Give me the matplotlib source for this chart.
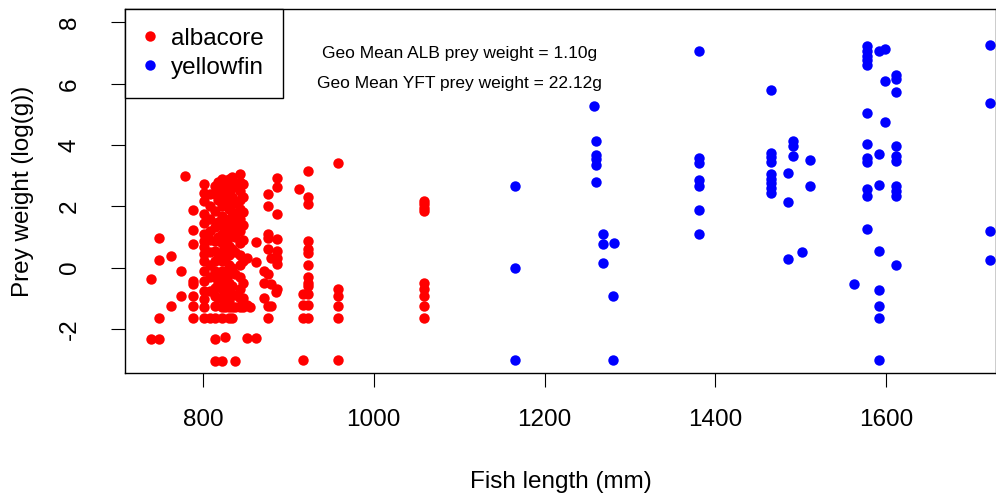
import numpy as np
import matplotlib
matplotlib.use("Agg")
import matplotlib.pyplot as plt

plt.rcParams['font.family'] = ['Liberation Sans', 'DejaVu Sans']
plt.rcParams['axes.unicode_minus'] = False

# albacore: fish length (mm) columns and prey weight (log g) at each length
alb_lengths = [739, 748, 762, 774, 779, 788, 801, 808, 814, 818, 822, 826, 830,
               834, 837, 843, 847, 851, 855, 862, 871, 876, 880, 886, 887, 912,
               917, 923, 958, 1059]
alb_weights = [
    [-0.36, -2.32],
    [0.95, 0.25, -1.63, -2.32],
    [0.39, -1.25],
    [-0.10, -0.92],
    [3.00],
    [1.88, 1.23, 0.77, -0.43, -0.54, -0.92, -1.25, -1.63],
    [2.73, 2.45, 2.18, 1.75, 1.47, 1.09, 0.88, 0.66, 0.44, 0.20, -0.10, -0.43,
     -0.76, -1.03, -1.30, -1.63],
    [2.40, 2.00, 1.60, 1.20, 0.90, 0.50, 0.10, -0.30, -0.76, -1.63],
    [2.67, 2.40, 1.86, 1.31, 0.88, 0.55, 0.22, -0.10, -0.32, -0.65, -0.92,
     -1.25, -1.63, -2.32, -3.05],
    [2.80, 2.20, 1.50, 1.00, 0.30, -0.50, -1.00],
    [2.89, 2.60, 2.30, 2.00, 1.70, 1.40, 1.10, 0.80, 0.50, 0.20, -0.10, -0.40,
     -0.70, -1.00, -1.30, -1.63, -3.05],
    [2.70, 2.10, 1.50, 0.90, 0.30, -0.30, -0.90, -1.30, -2.28],
    [2.90, 2.50, 2.20, 1.90, 1.60, 1.30, 1.00, 0.70, 0.40, 0.10, -0.20, -0.50,
     -0.80, -1.10, -1.30, -1.63],
    [2.95, 2.60, 2.30, 1.80, 1.20, 0.60, 0.00, -0.60, -1.30, -1.63],
    [2.70, 2.10, 1.70, 1.40, 1.00, 0.50, -0.20, -0.90, -1.30, -3.05],
    [3.06, 2.80, 2.50, 2.20, 1.90, 1.60, 1.20, 0.80, 0.40, 0.10, -0.30, -0.70,
     -1.00, -1.30],
    [2.73, 2.30, 1.80, 1.40, 0.90, 0.20, -0.50, -1.00, -1.30],
    [0.30, -1.23, -2.30],
    [-1.30],
    [0.82, 0.17, -2.30],
    [-0.10, -0.50, -1.00],
    [2.40, 2.02, 1.09, 0.95, 0.61, -0.20, -1.25, -1.63],
    [0.30, -0.55, -1.25],
    [-0.80],
    [2.92, 2.62, 1.75, 0.93, 0.55, 0.30, 0.12, -0.70],
    [2.56],
    [-0.87, -1.22, -1.63, -3.02],
    [3.16, 2.32, 2.07, 0.88, 0.61, 0.49, 0.08, -0.32, -0.49, -0.59, -0.87,
     -1.22, -1.63],
    [3.42, -0.70, -0.92, -1.25, -1.63, -3.02],
    [2.18, 2.07, 1.95, 1.86, -0.49, -0.70, -0.92, -1.25, -1.63],
]

# yellowfin
yft_lengths = [1165, 1258, 1260, 1269, 1280, 1281, 1381, 1465, 1485, 1491, 1501,
               1511, 1562, 1577, 1592, 1599, 1612, 1722]
yft_weights = [
    [2.65, 0.00, -3.02],
    [5.29],
    [4.12, 3.69, 3.55, 3.36, 2.78],
    [1.11, 0.77, 0.15],
    [-0.94, -3.02],
    [0.81],
    [7.08, 3.58, 3.43, 2.87, 2.65, 1.88, 1.11],
    [5.80, 3.75, 3.60, 3.45, 3.05, 2.90, 2.75, 2.60, 2.45],
    [3.09, 2.13, 0.29],
    [4.14, 3.98, 3.65],
    [0.51],
    [3.51, 2.65],
    [-0.52],
    [7.23, 7.08, 6.92, 6.78, 6.62, 5.04, 4.04, 3.57, 3.46, 2.57, 2.33, 1.26],
    [7.08, 3.71, 2.70, 0.55, -0.72, -1.25, -1.63, -3.02],
    [7.14, 6.10, 4.74],
    [6.30, 6.16, 5.74, 3.96, 3.65, 3.49, 2.67, 2.51, 2.35, 0.08],
    [7.28, 5.36, 1.20, 0.24],
]

geo_alb = 1.10
geo_yft = 22.12

alb_x = np.repeat(alb_lengths, [len(w) for w in alb_weights])
alb_y = np.concatenate(alb_weights)
yft_x = np.repeat(yft_lengths, [len(w) for w in yft_weights])
yft_y = np.concatenate(yft_weights)

fig = plt.figure(figsize=(9.96, 4.96), dpi=100)
ax = fig.add_axes([125 / 996, 1 - 373 / 496, 1 - 125 / 996, (373 - 9) / 496])

ax.plot(alb_x, alb_y, 'o', color='#FF0000', ms=7.5, mew=0, label='albacore')
ax.plot(yft_x, yft_y, 'o', color='#0000FF', ms=7.5, mew=0, label='yellowfin')

ax.set_xlim(708.7, 1728.6)
ax.set_ylim(-3.44, 8.44)
ax.set_xticks([800, 1000, 1200, 1400, 1600])
ax.set_yticks([-2, 0, 2, 4, 6, 8])
ax.tick_params(axis='both', labelsize=17.5, length=10, width=0.8, color='black')
ax.tick_params(axis='x', pad=16)
ax.tick_params(axis='y', pad=22)
for lab in ax.get_yticklabels():
    lab.set_rotation(90)
    lab.set_va('center')
for s in ax.spines.values():
    s.set_linewidth(1.0)

ax.set_xlabel('Fish length (mm)', fontsize=17.5, labelpad=29)
ax.set_ylabel('Prey weight (log(g))', fontsize=17.5, labelpad=18)

ax.text(1100, 7, 'Geo Mean ALB prey weight = %.2fg' % geo_alb,
        ha='center', va='center', fontsize=12.5)
ax.text(1100, 6, 'Geo Mean YFT prey weight = %.2fg' % geo_yft,
        ha='center', va='center', fontsize=12.5)

leg = ax.legend(loc='upper left', borderaxespad=0, fancybox=False,
                edgecolor='black', framealpha=1, fontsize=17.5,
                handlelength=0.5, handletextpad=0.6, labelspacing=0.28,
                borderpad=0.78)
leg.get_frame().set_linewidth(1.0)

fig.savefig('out.png', dpi=100)
